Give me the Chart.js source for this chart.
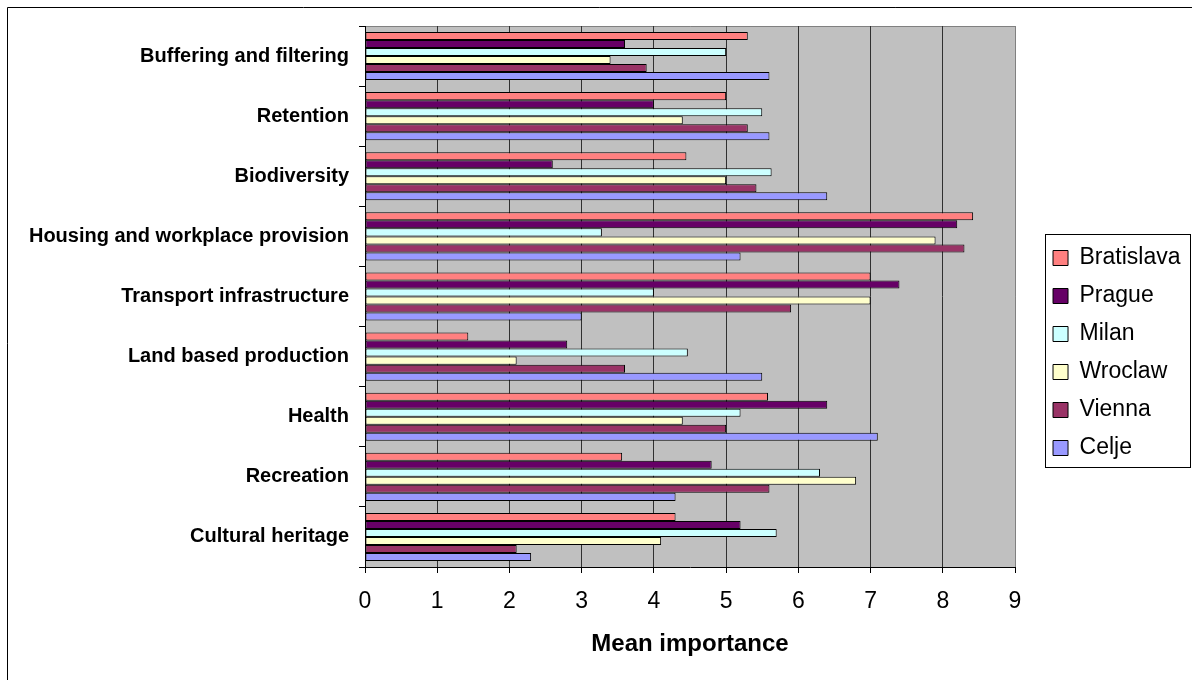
<!DOCTYPE html>
<html>
<head>
<meta charset="utf-8">
<script src="https://cdn.jsdelivr.net/npm/chart.js@4/dist/chart.umd.min.js"></script>
<style>
  html, body { margin: 0; padding: 0; background: #ffffff; }
  canvas { display: block; }
</style>
</head>
<body>
<canvas id="chart" width="1192" height="680"></canvas>
<script>
// Ecosystem functions, top to bottom
const categories = [
  'Buffering and filtering',
  'Retention',
  'Biodiversity',
  'Housing and workplace provision',
  'Transport infrastructure',
  'Land based production',
  'Health',
  'Recreation',
  'Cultural heritage'
];

const cities = ['Bratislava', 'Prague', 'Milan', 'Wroclaw', 'Vienna', 'Celje'];

// Mean importance per function, one list per city
const bratislava = [5.3, 5.0, 4.45, 8.42, 7.0, 1.43, 5.58, 3.56, 4.3];
const prague     = [3.6, 4.0, 2.6, 8.2, 7.4, 2.8, 6.4, 4.8, 5.2];
const milan      = [5.0, 5.5, 5.63, 3.28, 4.0, 4.47, 5.2, 6.3, 5.7];
const wroclaw    = [3.4, 4.4, 5.0, 7.9, 7.0, 2.1, 4.4, 6.8, 4.1];
const vienna     = [3.9, 5.3, 5.42, 8.3, 5.9, 3.6, 5.0, 5.6, 2.1];
const celje      = [5.6, 5.6, 6.4, 5.2, 3.0, 5.5, 7.1, 4.3, 2.3];

const xTickValues = [0, 1, 2, 3, 4, 5, 6, 7, 8, 9];
const axisTitle = 'Mean importance';

const seriesValues = [bratislava, prague, milan, wroclaw, vienna, celje];
const cityColors = ['#FF8080', '#660066', '#CCFFFF', '#FFFFCC', '#993366', '#9999FF'];
const FONT = "'Liberation Sans', Arial, Helvetica, sans-serif";

// Page frame, grey plot background and plot border
const framePlugin = {
  id: 'frame',
  beforeDraw(chart) {
    const { ctx, chartArea: a, width, height } = chart;
    ctx.save();
    ctx.fillStyle = '#ffffff';
    ctx.fillRect(0, 0, width, height);
    ctx.strokeStyle = '#000000';
    ctx.lineWidth = 1;
    ctx.beginPath();
    ctx.moveTo(7.5, height);
    ctx.lineTo(7.5, 7.5);
    ctx.lineTo(width, 7.5);
    ctx.stroke();
    ctx.fillStyle = '#C0C0C0';
    ctx.fillRect(a.left, a.top, a.right - a.left, a.bottom - a.top);
    ctx.strokeStyle = '#808080';
    ctx.beginPath();
    ctx.moveTo(a.left, Math.round(a.top) + 0.5);
    ctx.lineTo(Math.round(a.right) + 0.5, Math.round(a.top) + 0.5);
    ctx.lineTo(Math.round(a.right) + 0.5, a.bottom);
    ctx.stroke();
    ctx.restore();
  }
};

// Legend placement and its outline box
const legendBoxPlugin = {
  id: 'legendBox',
  afterLayout(chart) {
    if (chart.legend) {
      chart.legend.left += 23;
      chart.legend.right += 23;
    }
  },
  afterDraw(chart) {
    const lg = chart.legend;
    if (!lg || !lg.legendHitBoxes || !lg.legendHitBoxes.length) return;
    const hb = lg.legendHitBoxes;
    const first = hb[0];
    const last = hb[hb.length - 1];
    const left = Math.round(lg.left + 15 - 8) + 0.5;
    const right = chart.width - 1.5;
    const top = Math.round(first.top - 13) + 0.5;
    const bottom = Math.round(last.top + last.height + 7) + 0.5;
    const ctx = chart.ctx;
    ctx.save();
    ctx.strokeStyle = '#000000';
    ctx.lineWidth = 1;
    ctx.strokeRect(left, top, right - left, bottom - top);
    ctx.restore();
  }
};

const datasets = cities.map((name, i) => ({
  label: name,
  data: seriesValues[i],
  backgroundColor: cityColors[i],
  borderColor: '#000000',
  borderWidth: 1,
  borderSkipped: false,
  categoryPercentage: 0.8,
  barPercentage: 1.0
}));

new Chart(document.getElementById('chart'), {
  type: 'bar',
  data: { labels: categories, datasets },
  plugins: [framePlugin, legendBoxPlugin],
  options: {
    indexAxis: 'y',
    responsive: false,
    devicePixelRatio: 1,
    animation: false,
    layout: { padding: { left: 0, top: 26, right: 24.5, bottom: 0 } },
    plugins: {
      legend: {
        position: 'right',
        labels: {
          boxWidth: 15,
          boxHeight: 15,
          padding: 15,
          color: '#000000',
          font: { family: FONT, size: 23 }
        }
      },
      tooltip: { enabled: false }
    },
    scales: {
      x: {
        min: 0,
        max: 9,
        afterBuildTicks: (scale) => { scale.ticks = xTickValues.map(v => ({ value: v })); },
        grid: {
          color: (c) => (c.tick && c.tick.value === 9 ? '#808080' : '#303030'),
          tickColor: '#000000',
          tickLength: 6,
          lineWidth: 1
        },
        border: { color: '#000000', width: 1 },
        ticks: {
          color: '#000000',
          font: { family: FONT, size: 23 },
          padding: 15,
          maxRotation: 0
        },
        title: {
          display: true,
          text: axisTitle,
          color: '#000000',
          font: { family: FONT, size: 24, weight: 'bold' },
          padding: { top: 0, bottom: 21 }
        },
        afterFit: (scale) => { scale.height = 113; }
      },
      y: {
        grid: {
          drawOnChartArea: false,
          color: '#000000',
          tickLength: 6,
          offset: true
        },
        border: { color: '#000000', width: 1 },
        ticks: {
          color: '#000000',
          font: { family: FONT, size: 20, weight: 'bold' },
          padding: 10,
          autoSkip: false
        },
        afterFit: (scale) => { scale.width = 365; }
      }
    }
  }
});
</script>
</body>
</html>
